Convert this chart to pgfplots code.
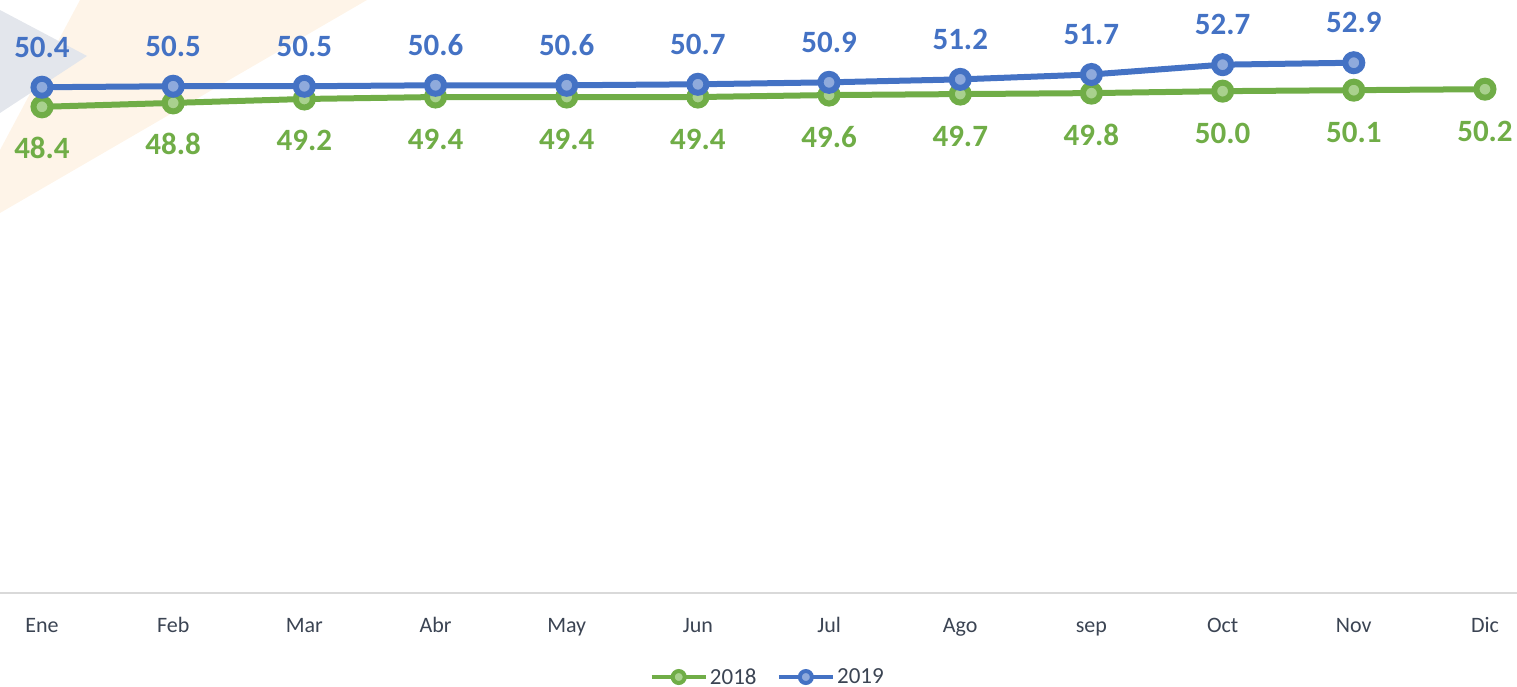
\documentclass[border=0pt]{standalone}
\usepackage{pgfplots}
\pgfplotsset{compat=1.18}
\usepackage{fontspec}
\setmainfont{Carlito}
\definecolor{g18}{HTML}{70AD47}
\definecolor{g18f}{HTML}{A9D18E}
\definecolor{b19}{HTML}{4472C4}
\definecolor{b19f}{HTML}{8FAADC}
\definecolor{txt}{HTML}{3B4453}
\definecolor{wmgray}{HTML}{E3E6EC}
\definecolor{wmorange}{HTML}{FEF4E8}
\begin{document}
\begin{tikzpicture}[x=1pt,y=1pt]
\useasboundingbox (0,-94) rectangle (1517,593);
% faint background logo
\fill[wmorange] (80,593) -- (367,593) -- (0,380) -- (0,443) -- cycle;
\fill[wmgray] (0,583) -- (87,537) -- (0,480) -- cycle;
\begin{axis}[
  at={(0pt,0pt)}, anchor=south west,
  scale only axis, width=1517pt, height=593pt,
  xmin=-0.32, xmax=11.244, ymin=-1.2, ymax=59.3,
  axis x line=bottom, axis y line=none,
  x axis line style={draw=black!15, line width=1.5pt, -},
  xtick={0,...,11},
  xticklabels={Ene,Feb,Mar,Abr,May,Jun,Jul,Ago,sep,Oct,Nov,Dic},
  major tick length=0pt,
  xticklabel style={font=\fontsize{22}{26}\selectfont, text=txt, anchor=center,
    text height=15pt, text depth=4pt, yshift=-33.5pt},
  clip=false,
  /pgf/number format/assume math mode=true,
  nodes near coords={\pgfmathprintnumber[fixed,fixed zerofill,precision=1]{\pgfplotspointmeta}},
  legend style={at={(0.506,-0.1417)}, anchor=center, draw=none, fill=none,
    legend columns=2, font=\fontsize{23}{27}\selectfont, text=txt,
    /tikz/every even column/.append style={column sep=18pt},
    inner sep=0pt},
  legend image code/.code={\draw[mark repeat=2,mark phase=2,#1,line width=4.5pt,mark size=6pt,every mark/.append style={line width=4pt}] plot coordinates {(0pt,0pt)(27pt,0pt)(54pt,0pt)};},
]
\addplot[g18, line width=6pt, mark=*, mark size=8.5pt,
  mark options={draw=g18, fill=g18f, line width=6pt},
  every node near coord/.append style={anchor=center, yshift=-42pt, text height=20pt, text depth=0pt,
    font=\fontsize{31}{36}\bfseries\selectfont, text=g18}]
  coordinates {(0,48.4)(1,48.8)(2,49.2)(3,49.4)(4,49.4)(5,49.4)(6,49.6)(7,49.7)(8,49.8)(9,50.0)(10,50.1)(11,50.2)};
\addlegendentry{2018}
\addplot[b19, line width=6pt, mark=*, mark size=8.5pt,
  mark options={draw=b19, fill=b19f, line width=6pt},
  every node near coord/.append style={anchor=center, yshift=40pt, text height=20pt, text depth=0pt,
    font=\fontsize{31}{36}\bfseries\selectfont, text=b19}]
  coordinates {(0,50.4)(1,50.5)(2,50.5)(3,50.6)(4,50.6)(5,50.7)(6,50.9)(7,51.2)(8,51.7)(9,52.7)(10,52.9)};
\addlegendentry{2019}
\end{axis}
\end{tikzpicture}
\end{document}
